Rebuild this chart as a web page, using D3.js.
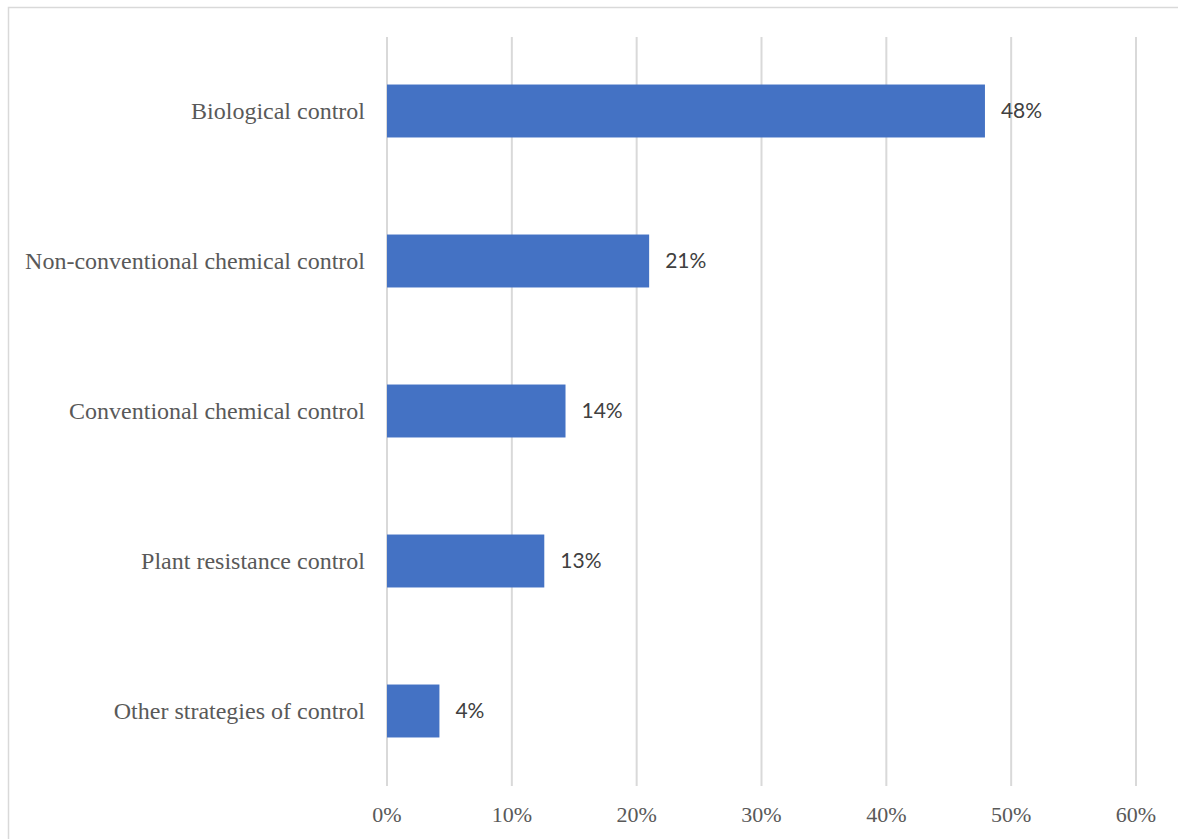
<!DOCTYPE html>
<html lang="en">
<head>
  <meta charset="UTF-8" />
  <title>Control strategies</title>
  <script src="https://cdn.jsdelivr.net/npm/d3@7/dist/d3.min.js"></script>
  <style>
    html, body { margin: 0; padding: 0; background: #fff; overflow: hidden; }
    svg { display: block; }
  </style>
</head>
<body>
  <div id="chart"></div>
  <script>
    // data
    const categories = [
      "Biological control",
      "Non-conventional chemical control",
      "Conventional chemical control",
      "Plant resistance control",
      "Other strategies of control"
    ];
    const values = [47.9, 21.0, 14.3, 12.6, 4.2];
    const valueLabels = ["48%", "21%", "14%", "13%", "4%"];
    const tickValues = [0, 10, 20, 30, 40, 50, 60];

    const width = 1178, height = 839;
    const barColor = "#4472C4";
    const gridColor = "#d9d9d9";
    const textColor = "#595959";

    const svg = d3.select("#chart").append("svg")
      .attr("width", width)
      .attr("height", height);

    // chart border (right and bottom edges fall outside the picture)
    svg.append("rect")
      .attr("x", 8.5).attr("y", 7.5)
      .attr("width", 1200).attr("height", 900)
      .attr("fill", "none")
      .attr("stroke", gridColor)
      .attr("stroke-width", 1.5);

    const x = d3.scaleLinear().domain([0, 60]).range([387, 1136]);
    const y = d3.scaleBand().domain(categories).range([36, 786])
      .paddingInner(0.647).paddingOuter(0.3235);

    // gridlines
    svg.append("g")
      .selectAll("line")
      .data(tickValues)
      .join("line")
      .attr("x1", d => x(d)).attr("x2", d => x(d))
      .attr("y1", 37).attr("y2", 786)
      .attr("stroke", gridColor)
      .attr("stroke-width", 2);

    // tick labels
    svg.append("g")
      .selectAll("text")
      .data(tickValues)
      .join("text")
      .attr("x", d => x(d))
      .attr("y", 822)
      .attr("text-anchor", "middle")
      .attr("font-family", "'Liberation Serif', 'Times New Roman', serif")
      .attr("font-size", 22)
      .attr("fill", textColor)
      .text(d => d + "%");

    // bars
    svg.append("g")
      .selectAll("rect")
      .data(values)
      .join("rect")
      .attr("x", x(0))
      .attr("y", (d, i) => y(categories[i]))
      .attr("width", d => x(d) - x(0))
      .attr("height", y.bandwidth())
      .attr("fill", barColor);

    // category labels
    svg.append("g")
      .selectAll("text")
      .data(categories)
      .join("text")
      .attr("x", 365)
      .attr("y", d => y(d) + y.bandwidth() / 2)
      .attr("dy", "0.35em")
      .attr("text-anchor", "end")
      .attr("font-family", "'Liberation Serif', 'Times New Roman', serif")
      .attr("font-size", 24)
      .attr("fill", textColor)
      .text(d => d);

    // value labels
    svg.append("g")
      .selectAll("text")
      .data(values)
      .join("text")
      .attr("x", d => x(d) + 16)
      .attr("y", (d, i) => y(categories[i]) + y.bandwidth() / 2)
      .attr("dy", "0.35em")
      .attr("font-family", "Lato, 'Open Sans', sans-serif")
      .attr("font-size", 21)
      .attr("fill", "#404040")
      .text((d, i) => valueLabels[i]);
  </script>
</body>
</html>
